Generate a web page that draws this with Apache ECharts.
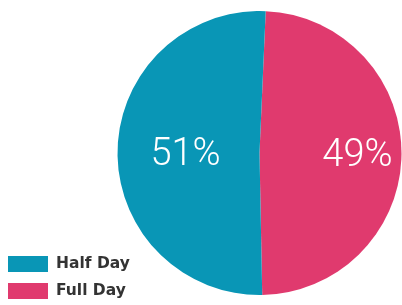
<!DOCTYPE html>
<html>
<head>
<meta charset="utf-8">
<script src="https://cdn.jsdelivr.net/npm/echarts@6/dist/echarts.min.js"></script>
<style>
    html, body { margin: 0; padding: 0; background: #fff; }
    #chart { width: 402px; height: 305px; }
</style>
</head>
<body>
<div id="chart"></div>
<script>
// slices, in drawing order (clockwise from the top)
var sliceNames = ['Full Day', 'Half Day'];
var sliceValues = [49, 51];
var sliceColors = ['#e03a6e', '#0996b6'];
// legend order
var legendNames = ['Half Day', 'Full Day'];

var chart = echarts.init(document.getElementById('chart'));

var pieData = sliceNames.map(function (name, i) {
    return {
        name: name,
        value: sliceValues[i],
        itemStyle: {color: sliceColors[i]},
        // the right label sits further out than the left one
        label: {offset: i === 0 ? [24, 3] : [0, 3]}
    };
});

chart.setOption({
    animation: false,
    legend: {
        data: legendNames,
        orient: 'vertical',
        left: 8,
        top: 256,
        padding: 0,
        icon: 'rect',
        itemWidth: 40,
        itemHeight: 16,
        itemGap: 11,
        textStyle: {
            fontFamily: 'DejaVu Sans',
            fontWeight: 'bold',
            fontSize: 15.5,
            color: '#333',
            padding: [0, 0, 0, 3]
        }
    },
    series: [
        {
            type: 'pie',
            center: [259.5, 153],
            radius: [0, 142],
            startAngle: 87.5,
            clockwise: true,
            silent: true,
            label: {
                show: true,
                position: 'inside',
                formatter: function (p) {
                    return Math.round(p.percent) + '%';
                },
                color: '#fff',
                fontFamily: 'Roboto',
                fontWeight: 300,
                fontSize: 38
            },
            labelLine: {show: false},
            data: pieData
        }
    ]
});
</script>
</body>
</html>
